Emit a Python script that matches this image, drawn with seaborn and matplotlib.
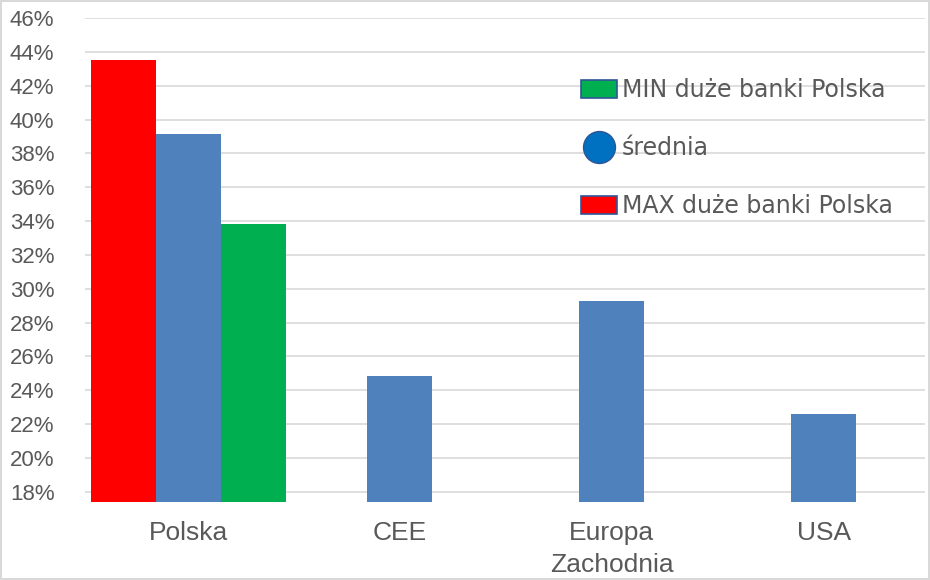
import numpy as np
import pandas as pd
import seaborn as sns
import matplotlib
import matplotlib.pyplot as plt
from matplotlib.patches import Patch
from matplotlib.lines import Line2D
from matplotlib.ticker import FuncFormatter

matplotlib.use("Agg")

# ─── Data ───────────────────────────────────────────────────────────────────
CATEGORIES = ["Polska", "CEE", "Europa\nZachodnia", "USA"]
MAX_VALS = [43.5, np.nan, np.nan, np.nan]
AVG_VALS = [39.15, 24.85, 29.3, 22.6]
MIN_VALS = [33.8, np.nan, np.nan, np.nan]

SERIES = ["MAX duże banki Polska", "średnia", "MIN duże banki Polska"]
COLORS = {"MAX duże banki Polska": "#FF0000",
          "średnia": "#4F81BD",
          "MIN duże banki Polska": "#00B050"}

rows = []
for name, vals in zip(SERIES, [MAX_VALS, AVG_VALS, MIN_VALS]):
    for cat, v in zip(CATEGORIES, vals):
        rows.append({"Region": cat, "Seria": name, "Wartość": v})
df = pd.DataFrame(rows)

sns.set_theme(style="white")
plt.rcParams["font.family"] = ["Liberation Sans", "DejaVu Sans"]

fig = plt.figure(figsize=(9.3, 5.8), dpi=100, edgecolor="#D9D9D9", linewidth=1.5)
ax = fig.add_axes([0.0914, 0.1345, 0.903, 0.8345])

sns.barplot(data=df, x="Region", y="Wartość", hue="Seria",
            order=CATEGORIES, hue_order=SERIES, palette=COLORS,
            width=0.92, gap=0, dodge=True, saturation=1, ax=ax,
            legend=False, linewidth=0, zorder=3)

ax.set_ylim(17.4, 46)
ax.set_xlim(-0.486, 3.476)
ax.set_yticks(np.arange(18, 47, 2))
ax.yaxis.set_major_formatter(FuncFormatter(lambda v, _: f"{v:.0f}%"))
ax.grid(axis="y", color="#D9D9D9", linewidth=1.2, zorder=0)
ax.set_axisbelow(True)
for s in ax.spines.values():
    s.set_visible(False)
ax.set_xlabel("")
ax.set_ylabel("")
ax.tick_params(axis="y", length=0, pad=22, labelsize=16, labelcolor="#595959")
ax.tick_params(axis="x", length=0, pad=14, labelsize=19, labelcolor="#595959")
for t in ax.get_xticklabels():
    t.set_linespacing(1.4)

# legend
handles = [
    Patch(facecolor="#00B050", edgecolor="#2F5597", linewidth=1.2),
    Line2D([0], [0], marker="o", color="none", markerfacecolor="#0070C0",
           markeredgecolor="#2F5597", markersize=23),
    Patch(facecolor="#FF0000", edgecolor="#2F5597", linewidth=1.2),
]
labels = ["MIN duże banki Polska", "średnia", "MAX duże banki Polska"]
leg = ax.legend(handles, labels, loc="upper left", bbox_to_anchor=(0.565, 0.92),
                frameon=False, labelspacing=1.45, handlelength=1.55,
                handleheight=0.8, handletextpad=0.2,
                prop={"family": "DejaVu Sans", "size": 17})
for t in leg.get_texts():
    t.set_color("#595959")

plt.savefig("out.png", dpi=100, edgecolor=fig.get_edgecolor())
plt.close()
